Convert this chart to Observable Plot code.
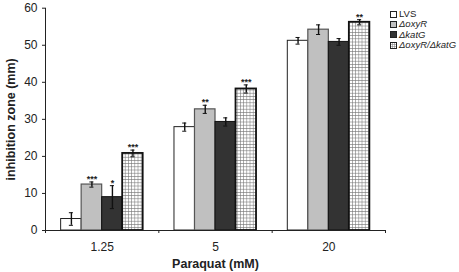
<!DOCTYPE html>
<html>
<head>
<meta charset="utf-8">
<script src="https://cdn.jsdelivr.net/npm/d3@7"></script>
<script src="https://cdn.jsdelivr.net/npm/@observablehq/plot@0.6"></script>
<style>
  html, body { margin: 0; padding: 0; background: #fff; }
  #wrap { position: relative; width: 459px; height: 272px; font-family: "Liberation Sans", Arial, sans-serif; }
  #legend { position: absolute; left: 390px; top: 9px; font-size: 9.5px; color: #222; line-height: 10.3px; }
  #legend .row { display: flex; align-items: center; height: 10.3px; white-space: nowrap; }
  #legend svg { margin-right: 2px; }
</style>
</head>
<body>
<div id="wrap"><div id="legend"></div></div>
<script>
// ---- data ----
const groups = ["1.25", "5", "20"];
const series = ["LVS", "ΔoxyR", "ΔkatG", "ΔoxyR/ΔkatG"];
const LVS = [3.1, 27.9, 51.2];
const oxyR = [12.4, 32.7, 54.2];
const katG = [9.0, 29.3, 50.9];
const oxyRkatG = [20.8, 38.2, 56.2];
const LVS_err = [1.7, 1.1, 0.9];
const oxyR_err = [0.7, 1.1, 1.3];
const katG_err = [3.1, 1.1, 0.9];
const oxyRkatG_err = [0.9, 1.1, 0.7];
const LVS_sig = ["", "", ""];
const oxyR_sig = ["***", "**", ""];
const katG_sig = ["*", "", ""];
const oxyRkatG_sig = ["***", "***", "**"];
const yTicks = [0, 10, 20, 30, 40, 50, 60];

// ---- styling ----
const fills = ["#ffffff", "#c0c0c0", "#333333", "url(#grid)"];
const strokes = ["#222222", "#555555", "#111111", "#111111"];
const strokeWidths = [1, 1.2, 1, 1.8];
const barW = 0.181;            // bar width as fraction of a group band
const groupPad = (1 - 4 * barW) / 2;
const capHalf = 0.018;

const vals = [LVS, oxyR, katG, oxyRkatG];
const errs = [LVS_err, oxyR_err, katG_err, oxyRkatG_err];
const sigs = [LVS_sig, oxyR_sig, katG_sig, oxyRkatG_sig];

const rows = [];
groups.forEach((g, gi) => {
  series.forEach((s, sj) => {
    const x1 = gi + groupPad + sj * barW;
    rows.push({group: g, series: s, gi, sj, x1, x2: x1 + barW, xc: x1 + barW / 2,
      value: vals[sj][gi], err: errs[sj][gi], sig: sigs[sj][gi]});
  });
});

const font = "Liberation Sans, Arial, sans-serif";

const chart = Plot.plot({
  width: 459,
  height: 272,
  marginLeft: 45,
  marginRight: 74,
  marginTop: 7.7,
  marginBottom: 42,
  style: {fontFamily: font, fontSize: "12px", color: "#222", background: "white"},
  x: {type: "linear", domain: [0, groups.length]},
  y: {domain: [0, 60]},
  marks: [
    Plot.rectY(rows, {x1: "x1", x2: "x2", y: "value",
      fill: d => fills[d.sj], stroke: d => strokes[d.sj], strokeWidth: d => strokeWidths[d.sj]}),
    Plot.ruleX(rows, {x: "xc", y1: d => d.value - d.err, y2: d => d.value + d.err, stroke: "#111", strokeWidth: 1.4}),
    Plot.ruleY(rows, {x1: d => d.xc - capHalf, x2: d => d.xc + capHalf, y: d => d.value + d.err, stroke: "#111", strokeWidth: 1}),
    Plot.ruleY(rows, {x1: d => d.xc - capHalf, x2: d => d.xc + capHalf, y: d => d.value - d.err, stroke: "#111", strokeWidth: 1}),
    Plot.text(rows.filter(d => d.sig), {x: "xc", y: d => d.value + d.err, text: "sig", dy: -3, fontSize: 9, fontWeight: "bold", fill: "#222"}),
    Plot.ruleY([0], {stroke: "#222", strokeWidth: 1}),
    Plot.ruleX([0], {stroke: "#222", strokeWidth: 1, insetBottom: -3}),
    Plot.axisY({ticks: yTicks, tickSize: 3, tickPadding: 5, label: null, fontSize: 12, stroke: "#222"}),
    Plot.axisX({ticks: d3.range(groups.length + 1), tickSize: 3, tickFormat: () => "", label: null, stroke: "#222"}),
    Plot.axisX({ticks: groups.map((g, i) => i + 0.5), tickSize: 0, tickPadding: 12,
      tickFormat: v => groups[Math.round(v - 0.5)], label: null, fontSize: 12}),
    Plot.text(["Paraquat (mM)"], {frameAnchor: "bottom", lineAnchor: "middle", dy: 33, fontWeight: "bold", fontSize: 12.5, fill: "#222"}),
    Plot.text(["inhibition zone (mm)"], {frameAnchor: "left", textAnchor: "middle", dx: -35, rotate: -90, fontWeight: "bold", fontSize: 12.5, fill: "#222"})
  ]
});

// checkered pattern for the double mutant
const defs = d3.select(chart).insert("defs", ":first-child");
const pat = defs.append("pattern").attr("id", "grid").attr("patternUnits", "userSpaceOnUse")
  .attr("width", 3.2).attr("height", 3.2);
pat.append("rect").attr("width", 3.2).attr("height", 3.2).attr("fill", "#fff");
pat.append("path").attr("d", "M0,0H3.2M0,0V3.2").attr("stroke", "#777").attr("stroke-width", 1.1);

document.getElementById("wrap").prepend(chart);

// legend
const legend = d3.select("#legend");
series.forEach((s, i) => {
  const row = legend.append("div").attr("class", "row");
  const sv = row.append("svg").attr("width", 7).attr("height", 7);
  if (i === 3) {
    const p = sv.append("defs").append("pattern").attr("id", "lgrid").attr("patternUnits", "userSpaceOnUse")
      .attr("width", 2).attr("height", 2);
    p.append("rect").attr("width", 2).attr("height", 2).attr("fill", "#fff");
    p.append("path").attr("d", "M0,0H2M0,0V2").attr("stroke", "#777").attr("stroke-width", 1);
  }
  sv.append("rect").attr("x", 0.5).attr("y", 0.5).attr("width", 6).attr("height", 6)
    .attr("fill", i === 3 ? "url(#lgrid)" : fills[i]).attr("stroke", "#222").attr("stroke-width", 1);
  row.append("span").style("font-style", i === 0 ? "normal" : "italic").text(s);
});
</script>
</body>
</html>
